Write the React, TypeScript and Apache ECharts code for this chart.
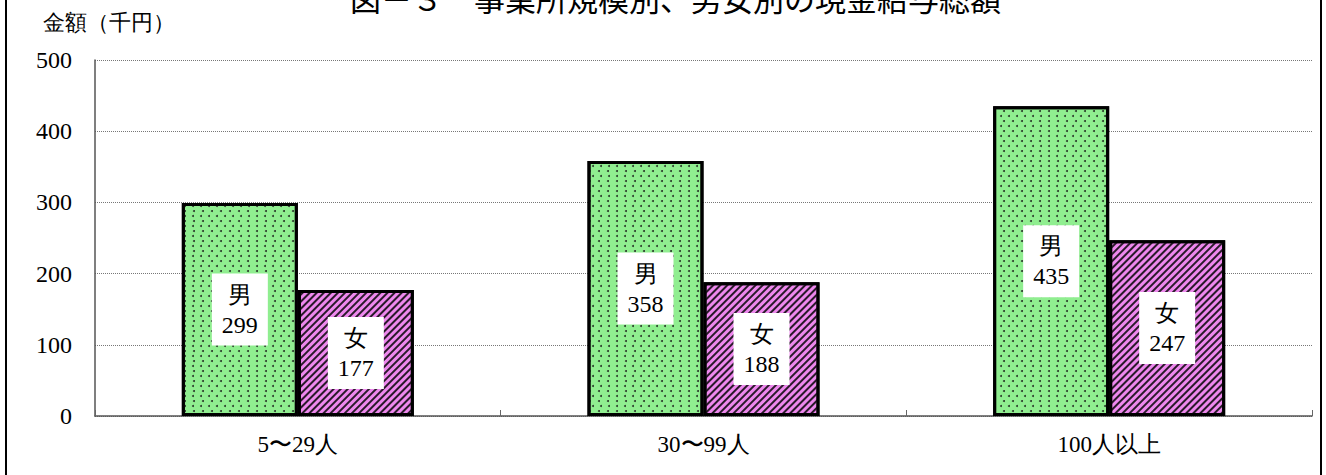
import React, { useEffect, useRef } from "react";
import * as echarts from "echarts";

const categories = ["5〜29人", "30〜99人", "100人以上"];
const maleValues = [299, 358, 435];
const femaleValues = [177, 188, 247];
const yTicks = [0, 100, 200, 300, 400, 500];

const FONT = "Liberation Serif";

export default function App() {
  const ref = useRef<HTMLDivElement>(null);
  useEffect(() => {
    if (!ref.current) return;
    const chart = echarts.init(ref.current, undefined, { renderer: "svg" });
    const labelStyle = {
      show: true,
      position: "inside",
      formatter: "{a}\n{c}",
      backgroundColor: "#fff",
      padding: [6, 10],
      fontSize: 24,
      lineHeight: 30,
      color: "#000",
      fontFamily: FONT,
    };
    chart.setOption({
      animation: false,
      backgroundColor: "#fff",
      grid: { left: 95, right: 14, top: 60, bottom: 59 },
      graphic: [
        {
          type: "rect",
          shape: { x: 6, y: -10, width: 1315, height: 500 },
          style: { fill: "none", stroke: "#000", lineWidth: 2 },
          silent: true,
        },
        {
          type: "text",
          x: 350,
          y: -3,
          style: {
            text: "図－３　事業所規模別、男女別の現金給与総額",
            fontSize: 31,
            fontFamily: "Noto Sans CJK JP",
            fill: "#000",
            verticalAlign: "middle",
            align: "left",
          },
        },
        {
          type: "text",
          x: 43,
          y: 22,
          style: {
            text: "金額（千円）",
            fontSize: 22,
            fontFamily: FONT,
            fill: "#000",
            verticalAlign: "middle",
            align: "left",
          },
        },
      ],
      xAxis: {
        type: "category",
        data: categories,
        axisLine: { lineStyle: { color: "#555", width: 1.5 } },
        axisTick: { show: true, inside: true, length: 6, lineStyle: { color: "#666" } },
        axisLabel: { fontSize: 23, color: "#000", margin: 17, fontFamily: FONT },
      },
      yAxis: {
        type: "value",
        min: yTicks[0],
        max: yTicks[yTicks.length - 1],
        interval: 100,
        axisLine: { show: true, lineStyle: { color: "#555", width: 1.5 } },
        axisTick: { show: false },
        splitLine: { lineStyle: { type: "dotted", color: "#777", width: 1 } },
        axisLabel: { fontSize: 24, color: "#000", margin: 23, fontFamily: FONT },
      },
      series: [
        {
          name: "男",
          type: "bar",
          data: maleValues,
          barWidth: 116,
          barGap: "0%",
          itemStyle: {
            color: "#90EE90",
            borderColor: "#000",
            borderWidth: 3,
            decal: {
              symbol: "circle",
              symbolSize: 1,
              dashArrayX: [
                [1.4, 5.6],
                [0, 3.5, 1.4, 2.1],
              ],
              dashArrayY: [1.4, 2.1],
              color: "#2a3a2a",
              rotation: 0,
            },
          },
          label: labelStyle,
        },
        {
          name: "女",
          type: "bar",
          data: femaleValues,
          barWidth: 116,
          itemStyle: {
            color: "#EE88EE",
            borderColor: "#000",
            borderWidth: 3,
            decal: {
              symbol: "rect",
              symbolSize: 1,
              dashArrayX: [1, 0],
              dashArrayY: [1.8, 2.4],
              color: "#2a1a2a",
              rotation: -Math.PI / 4,
            },
          },
          label: labelStyle,
        },
      ],
    });
    return () => chart.dispose();
  }, []);
  return (
    <div
      ref={ref}
      style={{ position: "fixed", left: 0, top: 0, width: 1326, height: 475 }}
    />
  );
}
